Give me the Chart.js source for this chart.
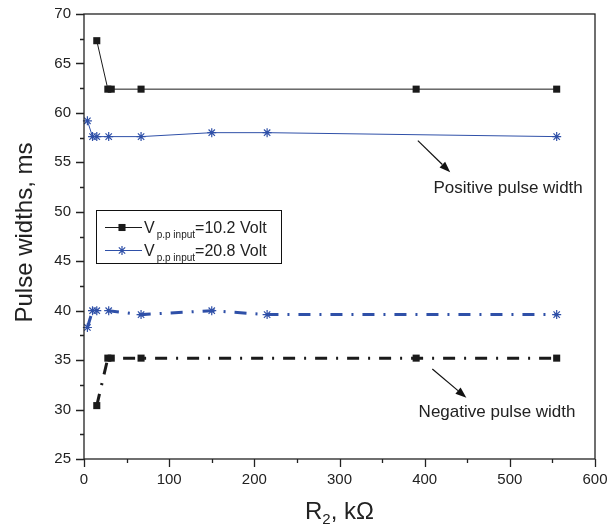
<!DOCTYPE html>
<html><head><meta charset="utf-8">
<script src="https://cdn.jsdelivr.net/npm/chart.js@4"></script>
<style>html,body{margin:0;padding:0;background:#fff}#wrap{width:607px;height:528px}</style>
</head><body><div id="wrap"><canvas id="c" width="607" height="528"></canvas></div>
<script>
// ---- data ----
const rBlack   = [15, 28, 32, 67, 390, 555];
const rBlue    = [4, 10, 15, 29, 67, 150, 215, 555];
const posBlack = [67.3, 62.4, 62.4, 62.4, 62.4, 62.4];
const posBlue  = [59.2, 57.6, 57.6, 57.6, 57.6, 58.0, 58.0, 57.6];
const negBlack = [30.4, 35.2, 35.2, 35.2, 35.2, 35.2];
const negBlue  = [38.3, 40.0, 40.0, 40.0, 39.6, 40.0, 39.6, 39.6];
const xTicks   = [0, 100, 200, 300, 400, 500, 600];
const yTicks   = [25, 30, 35, 40, 45, 50, 55, 60, 65, 70];
const legendMain = ['V', 'V'];
const legendSub  = ['p.p input', 'p.p input'];
const legendTail = ['=10.2 Volt', '=20.8 Volt'];
const yTitle = 'Pulse widths, ms';
const xTitleMain = 'R', xTitleSub = '2', xTitleTail = ', k\u03A9';
const noteTexts = ['Positive pulse width', 'Negative pulse width'];
// annotation anchors in data units: [arrowStartX, arrowStartY, arrowEndX, arrowEndY, textX, textY]
const notePos = [[392, 57.2, 430, 54.0, 498, 52.4], [409, 34.1, 449, 31.2, 485, 29.7]];

const BLUE = '#2f50a8', BLACK = '#1a1a1a';
const FONT = '"Liberation Sans", Arial, sans-serif';

function pts(xs, ys) { return xs.map((x, i) => ({x: x, y: ys[i]})); }

const datasets = [
  {data: pts(rBlack, posBlack), borderColor: BLACK, backgroundColor: BLACK, borderWidth: 1,
   pointStyle: 'rect', pointRadius: 5, pointBorderWidth: 0, pointBackgroundColor: BLACK},
  {data: pts(rBlue, posBlue), borderColor: BLUE, backgroundColor: BLUE, borderWidth: 1,
   pointStyle: 'star', pointRadius: 4.5, pointBorderWidth: 1.2, pointBorderColor: BLUE},
  {data: pts(rBlack, negBlack), borderColor: BLACK, backgroundColor: BLACK, borderWidth: 3,
   borderDash: [12, 9, 2, 9], pointStyle: 'rect', pointRadius: 5, pointBorderWidth: 0, pointBackgroundColor: BLACK},
  {data: pts(rBlue, negBlue), borderColor: BLUE, backgroundColor: BLUE, borderWidth: 3,
   borderDash: [12, 9, 2, 9], pointStyle: 'star', pointRadius: 4.5, pointBorderWidth: 1.2, pointBorderColor: BLUE}
];
datasets.forEach(d => { d.tension = 0; d.fill = false; d.clip = 10; });

const extras = {
  id: 'extras',
  afterDraw(chart) {
    const ctx = chart.ctx, a = chart.chartArea, xs = chart.scales.x, ys = chart.scales.y;
    ctx.save();
    // frame
    ctx.strokeStyle = '#222'; ctx.lineWidth = 1.3;
    ctx.strokeRect(a.left, a.top, a.right - a.left, a.bottom - a.top);
    // tick marks (major + minor)
    ctx.beginPath();
    for (let v = yTicks[0]; v <= yTicks[yTicks.length - 1] + 1e-6; v += 2.5) {
      const y = Math.round(ys.getPixelForValue(v)) + 0.5;
      const len = yTicks.includes(v) ? 8 : 4;
      ctx.moveTo(a.left, y); ctx.lineTo(a.left - len, y);
    }
    for (let v = xTicks[0]; v <= xTicks[xTicks.length - 1] + 1e-6; v += 50) {
      const x = Math.round(xs.getPixelForValue(v)) + 0.5;
      const len = xTicks.includes(v) ? 8 : 4;
      ctx.moveTo(x, a.bottom); ctx.lineTo(x, a.bottom + len);
    }
    ctx.stroke();
    ctx.fillStyle = '#222';
    // y title
    ctx.save();
    ctx.translate(25, (a.top + a.bottom) / 2 - 4);
    ctx.rotate(-Math.PI / 2);
    ctx.font = '24px ' + FONT; ctx.textAlign = 'center'; ctx.textBaseline = 'middle';
    ctx.fillText(yTitle, 0, 0);
    ctx.restore();
    // x title with subscript
    ctx.textBaseline = 'alphabetic'; ctx.textAlign = 'left';
    ctx.font = '24px ' + FONT; const w1 = ctx.measureText(xTitleMain).width, w3 = ctx.measureText(xTitleTail).width;
    ctx.font = '15px ' + FONT; const w2 = ctx.measureText(xTitleSub).width;
    let xx = (a.left + a.right) / 2 - (w1 + w2 + w3) / 2;
    const by = 519;
    ctx.font = '24px ' + FONT; ctx.fillText(xTitleMain, xx, by); xx += w1;
    ctx.font = '15px ' + FONT; ctx.fillText(xTitleSub, xx, by + 5); xx += w2;
    ctx.font = '24px ' + FONT; ctx.fillText(xTitleTail, xx, by);
    // legend
    const lx = a.left + 12, ly = 210;
    ctx.strokeStyle = '#111'; ctx.lineWidth = 1;
    ctx.strokeRect(lx + 0.5, ly + 0.5, 185, 53);
    [0, 1].forEach(i => {
      const d = datasets[i];
      const cy = ly + 17 + i * 23;
      ctx.strokeStyle = d.borderColor; ctx.lineWidth = 1; ctx.setLineDash([]);
      ctx.beginPath(); ctx.moveTo(lx + 9, cy + 0.5); ctx.lineTo(lx + 46, cy + 0.5); ctx.stroke();
      ctx.fillStyle = d.borderColor; ctx.strokeStyle = d.borderColor; ctx.lineWidth = d.pointBorderWidth || 0;
      Chart.helpers.drawPoint(ctx, {pointStyle: d.pointStyle, radius: d.pointRadius, rotation: 0, borderWidth: d.pointBorderWidth}, lx + 26, cy + 0.5);
      ctx.fillStyle = '#222';
      let tx = lx + 48;
      ctx.font = '16px ' + FONT; ctx.fillText(legendMain[i], tx, cy + 6); tx += ctx.measureText(legendMain[i]).width + 2;
      ctx.font = '10px ' + FONT; ctx.fillText(legendSub[i], tx, cy + 11); tx += ctx.measureText(legendSub[i]).width;
      ctx.font = '16px ' + FONT; ctx.fillText(legendTail[i], tx, cy + 6);
    });
    // annotations
    notePos.forEach((p, i) => {
      const x1 = xs.getPixelForValue(p[0]), y1 = ys.getPixelForValue(p[1]);
      const x2 = xs.getPixelForValue(p[2]), y2 = ys.getPixelForValue(p[3]);
      const ang = Math.atan2(y2 - y1, x2 - x1);
      const hl = 11, hw = 4;
      const bx = x2 - hl * Math.cos(ang), byy = y2 - hl * Math.sin(ang);
      ctx.strokeStyle = '#111'; ctx.lineWidth = 1.2;
      ctx.beginPath(); ctx.moveTo(x1, y1); ctx.lineTo(bx, byy); ctx.stroke();
      ctx.fillStyle = '#111';
      ctx.beginPath();
      ctx.moveTo(x2, y2);
      ctx.lineTo(bx + hw * Math.sin(ang), byy - hw * Math.cos(ang));
      ctx.lineTo(bx - hw * Math.sin(ang), byy + hw * Math.cos(ang));
      ctx.closePath(); ctx.fill();
      ctx.fillStyle = '#222'; ctx.font = '17px ' + FONT; ctx.textAlign = 'center'; ctx.textBaseline = 'middle';
      ctx.fillText(noteTexts[i], xs.getPixelForValue(p[4]), ys.getPixelForValue(p[5]));
      ctx.textAlign = 'left'; ctx.textBaseline = 'alphabetic';
    });
    ctx.restore();
  }
};

new Chart(document.getElementById('c'), {
  type: 'line',
  data: {datasets: datasets},
  options: {
    responsive: false, animation: false, devicePixelRatio: 1,
    layout: {padding: {left: 0, right: 12, top: 14, bottom: 0}},
    plugins: {legend: {display: false}, tooltip: {enabled: false}},
    scales: {
      x: {type: 'linear', min: xTicks[0], max: xTicks[xTicks.length - 1],
          grid: {display: false, drawTicks: false}, border: {display: false},
          afterBuildTicks: s => { s.ticks = xTicks.map(v => ({value: v})); },
          afterFit: s => { s.height = 69; s.paddingLeft = 0; s.paddingRight = 0; },
          ticks: {font: {size: 15, family: FONT}, color: '#222', padding: 12, maxRotation: 0, autoSkip: false}},
      y: {type: 'linear', min: yTicks[0], max: yTicks[yTicks.length - 1],
          grid: {display: false, drawTicks: false}, border: {display: false},
          afterBuildTicks: s => { s.ticks = yTicks.map(v => ({value: v})); },
          afterFit: s => { s.width = 84; s.paddingTop = 0; s.paddingBottom = 0; },
          ticks: {font: {size: 15, family: FONT}, color: '#222', padding: 13}}
    }
  },
  plugins: [extras]
});
</script></body></html>
